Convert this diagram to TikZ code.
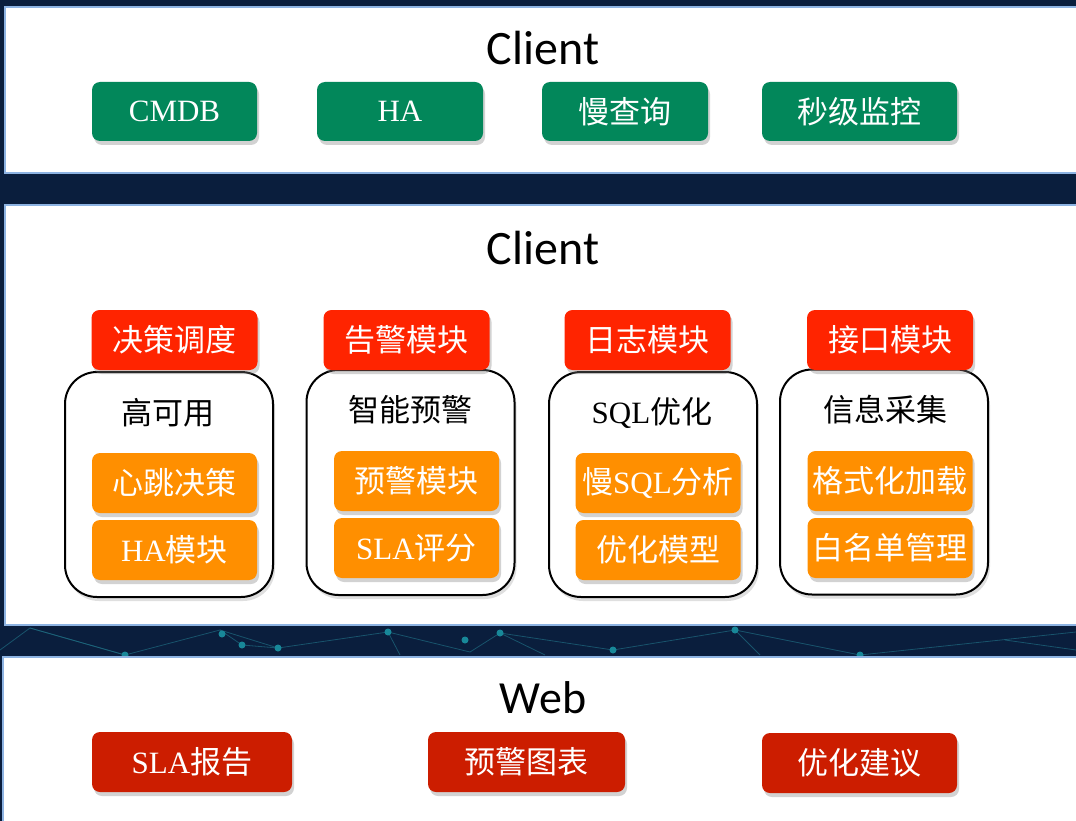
\documentclass[tikz,border=0pt]{standalone}
\usepackage{fontspec}
\setmainfont{Liberation Serif}
\newfontfamily\cjk{Noto Sans CJK SC}
\newfontfamily\calib{Carlito}
\usetikzlibrary{shadows}

\definecolor{navy}{HTML}{0A1E3D}
\definecolor{panelline}{HTML}{8DB3E2}
\definecolor{btngreen}{HTML}{02875A}
\definecolor{hdrred}{HTML}{FF2400}
\definecolor{modorange}{HTML}{FF8F00}
\definecolor{webred}{HTML}{CC1D00}
\definecolor{netteal}{HTML}{1E6A80}

\newcommand{\zh}[1]{{\cjk #1}}

\tikzset{
  panel/.style={draw=panelline,line width=2pt,fill=white},
  layertitle/.style={font=\calib\fontsize{48}{50}\selectfont,text=black},
  btn/.style={rounded corners=8pt,minimum height=59pt,inner sep=0pt,text=white,
    font=\fontsize{31}{33}\selectfont,
    drop shadow={opacity=0.35,shadow xshift=2pt,shadow yshift=-4pt}},
  greenbtn/.style={btn,fill=btngreen},
  hdrbtn/.style={btn,fill=hdrred,minimum height=60pt,minimum width=166pt},
  modbtn/.style={btn,fill=modorange,minimum height=60pt,minimum width=165pt},
  webbtn/.style={btn,fill=webred,minimum height=60pt},
  group/.style={draw=black,line width=2pt,rounded corners=32pt,fill=white,
    minimum width=208pt,minimum height=225pt,
    drop shadow={opacity=0.25,shadow xshift=2pt,shadow yshift=-4pt}},
  grouptitle/.style={font=\fontsize{31}{33}\selectfont,text=black},
  netline/.style={netteal,line width=0.8pt,opacity=0.7},
  netdot/.style={circle,fill=netteal!80!cyan,inner sep=0pt,minimum size=7pt}
}

\begin{document}
\begin{tikzpicture}[x=1pt,y=-1pt]
  \useasboundingbox (0,0) rectangle (1076,821);
  \fill[navy] (0,0) rectangle (1076,821);

  % network in the gap
  \draw[netline] (0,650) -- (30,628) -- (125,655) -- (220,630) -- (278,648) -- (388,632) -- (470,652)
    -- (500,633) -- (613,650) -- (735,630) -- (860,655) -- (1076,632);
  \draw[netline] (30,628) -- (125,655) (220,630) -- (242,645) -- (278,648) (388,632) -- (400,655)
    (500,633) -- (545,655) (735,630) -- (760,655) (1005,640) -- (1076,650);
  \foreach \px/\py in {125/655,222/634,242/645,278/648,388/632,465/640,500/633,613/650,735/630,860/655}
    \node[netdot] at (\px,\py) {};

  % layers
  \draw[panel] (5,7) rectangle (1085,173);
  \draw[panel] (5,205) rectangle (1085,625);
  \draw[panel] (3,657) rectangle (1085,830);

  % top layer
  \node[layertitle] (client1) at (543,48) {Client};
  \node[greenbtn,minimum width=165pt] (cmdb) at (174.5,111.5) {CMDB};
  \node[greenbtn,minimum width=166pt] (ha) at (400,111.5) {HA};
  \node[greenbtn,minimum width=166pt] (slowq) at (625,111.5) {\zh{慢查询}};
  \node[greenbtn,minimum width=195pt] (secmon) at (859.5,111.5) {\zh{秒级监控}};

  % middle layer
  \node[layertitle] (client2) at (543,248) {Client};

  \node[group] (grpha) at (169,484.5) {};
  \node[group] (grpwarn) at (410.5,482.5) {};
  \node[group] (grpsql) at (653,484.5) {};
  \node[group] (grpinfo) at (884,482) {};

  \node[hdrbtn] (decide) at (174.5,340) {\zh{决策调度}};
  \node[hdrbtn] (alarm) at (406.5,340) {\zh{告警模块}};
  \node[hdrbtn] (log) at (647.5,340) {\zh{日志模块}};
  \node[hdrbtn] (api) at (890,340) {\zh{接口模块}};

  \node[grouptitle] (tha) at (168,413) {\zh{高可用}};
  \node[grouptitle] (twarn) at (410,410) {\zh{智能预警}};
  \node[grouptitle] (tsql) at (652,413) {SQL\zh{优化}};
  \node[grouptitle] (tinfo) at (885,410) {\zh{信息采集}};

  \node[modbtn] (heart) at (174.5,483) {\zh{心跳决策}};
  \node[modbtn] (hamod) at (174.5,550) {HA\zh{模块}};
  \node[modbtn] (warnmod) at (416.5,481) {\zh{预警模块}};
  \node[modbtn] (slascore) at (416.5,548) {SLA\zh{评分}};
  \node[modbtn] (slowsql) at (658,483) {\zh{慢}SQL\zh{分析}};
  \node[modbtn] (optmodel) at (658,550) {\zh{优化模型}};
  \node[modbtn] (fmtload) at (890,481) {\zh{格式化加载}};
  \node[modbtn] (whitelist) at (890,548) {\zh{白名单管理}};

  % bottom layer
  \node[layertitle,font=\calib\fontsize{46}{48}\selectfont] (web) at (543,698) {Web};
  \node[webbtn,minimum width=200pt] (slarep) at (192,762) {SLA\zh{报告}};
  \node[webbtn,minimum width=197pt] (warnchart) at (526.5,762) {\zh{预警图表}};
  \node[webbtn,minimum width=195pt] (advice) at (859.5,763) {\zh{优化建议}};
\end{tikzpicture}
\end{document}
